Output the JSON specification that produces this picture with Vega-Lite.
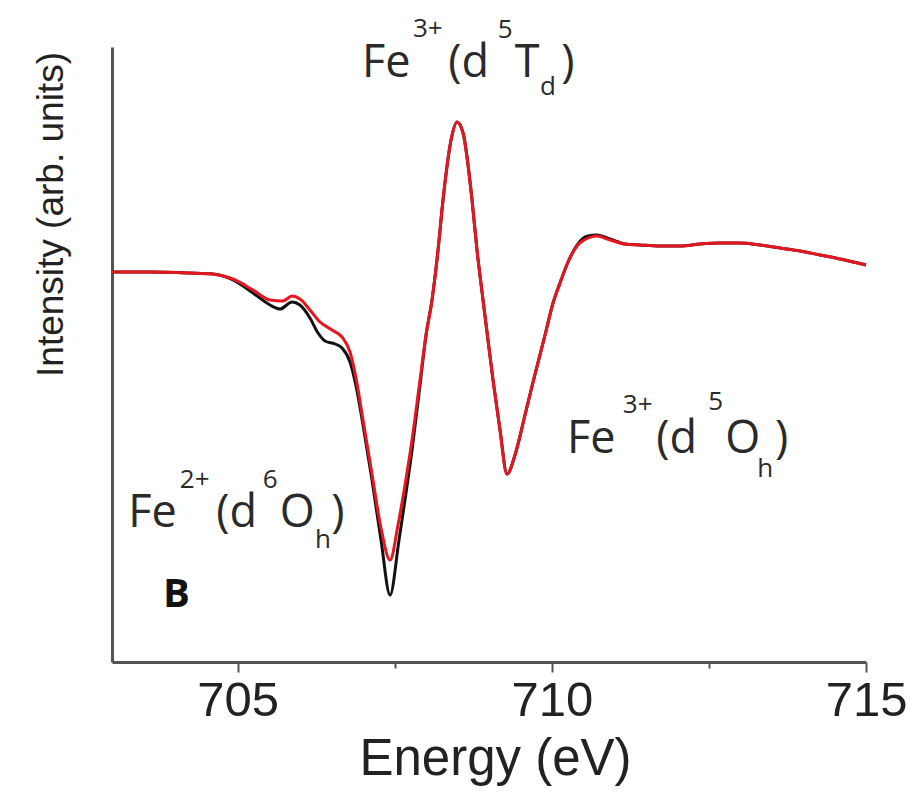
{
  "$schema": "https://vega.github.io/schema/vega-lite/v6.json",
  "width": 754,
  "height": 615,
  "autosize": {"type": "none"},
  "padding": {"left": 112, "top": 47, "right": 45, "bottom": 137},
  "background": "white",
  "config": {"view": {"stroke": null}},
  "datasets": {
    "black": [
      {"E": 703.000, "I": 0.00}, {"E": 703.605, "I": 0.00}, {"E": 704.241, "I": -0.01}, {"E": 704.608, "I": -0.02},
      {"E": 704.926, "I": -0.08}, {"E": 705.244, "I": -0.21}, {"E": 705.515, "I": -0.33}, {"E": 705.674, "I": -0.37},
      {"E": 705.865, "I": -0.30}, {"E": 705.992, "I": -0.33}, {"E": 706.151, "I": -0.46}, {"E": 706.279, "I": -0.61},
      {"E": 706.390, "I": -0.69}, {"E": 706.549, "I": -0.72}, {"E": 706.661, "I": -0.76}, {"E": 706.788, "I": -0.90},
      {"E": 706.884, "I": -1.14}, {"E": 706.995, "I": -1.53}, {"E": 707.138, "I": -2.08}, {"E": 707.281, "I": -2.68},
      {"E": 707.425, "I": -3.23}, {"E": 707.568, "I": -2.68}, {"E": 707.663, "I": -2.28}, {"E": 707.775, "I": -1.78},
      {"E": 707.902, "I": -1.13}, {"E": 707.998, "I": -0.63}, {"E": 708.093, "I": -0.28}, {"E": 708.189, "I": 0.22},
      {"E": 708.268, "I": 0.72}, {"E": 708.396, "I": 1.32}, {"E": 708.491, "I": 1.50}, {"E": 708.587, "I": 1.39},
      {"E": 708.730, "I": 0.72}, {"E": 708.809, "I": 0.22}, {"E": 708.905, "I": -0.28}, {"E": 709.064, "I": -1.08},
      {"E": 709.175, "I": -1.58}, {"E": 709.287, "I": -2.02}, {"E": 709.414, "I": -1.83}, {"E": 709.573, "I": -1.43},
      {"E": 709.701, "I": -1.10}, {"E": 709.892, "I": -0.63}, {"E": 710.019, "I": -0.31}, {"E": 710.130, "I": -0.11},
      {"E": 710.258, "I": 0.10}, {"E": 710.401, "I": 0.27}, {"E": 710.576, "I": 0.36}, {"E": 710.719, "I": 0.37},
      {"E": 710.926, "I": 0.33}, {"E": 711.165, "I": 0.28}, {"E": 711.404, "I": 0.27}, {"E": 711.722, "I": 0.26},
      {"E": 712.040, "I": 0.26}, {"E": 712.359, "I": 0.28}, {"E": 712.677, "I": 0.29}, {"E": 712.995, "I": 0.29},
      {"E": 713.314, "I": 0.27}, {"E": 713.632, "I": 0.24}, {"E": 713.950, "I": 0.21}, {"E": 714.268, "I": 0.17},
      {"E": 714.587, "I": 0.13}, {"E": 715.000, "I": 0.07}
    ],
    "red": [
      {"E": 703.000, "I": 0.00}, {"E": 703.605, "I": 0.00}, {"E": 704.241, "I": -0.01}, {"E": 704.608, "I": -0.02},
      {"E": 704.926, "I": -0.07}, {"E": 705.244, "I": -0.18}, {"E": 705.515, "I": -0.28}, {"E": 705.722, "I": -0.29},
      {"E": 705.865, "I": -0.24}, {"E": 705.992, "I": -0.27}, {"E": 706.151, "I": -0.38}, {"E": 706.311, "I": -0.50},
      {"E": 706.502, "I": -0.58}, {"E": 706.661, "I": -0.65}, {"E": 706.788, "I": -0.80}, {"E": 706.884, "I": -1.06},
      {"E": 706.995, "I": -1.48}, {"E": 707.138, "I": -2.02}, {"E": 707.281, "I": -2.56}, {"E": 707.425, "I": -2.88},
      {"E": 707.552, "I": -2.53}, {"E": 707.663, "I": -2.13}, {"E": 707.775, "I": -1.68}, {"E": 707.902, "I": -1.08},
      {"E": 707.998, "I": -0.63}, {"E": 708.093, "I": -0.28}, {"E": 708.189, "I": 0.22}, {"E": 708.268, "I": 0.72},
      {"E": 708.396, "I": 1.32}, {"E": 708.491, "I": 1.50}, {"E": 708.587, "I": 1.39}, {"E": 708.730, "I": 0.72},
      {"E": 708.809, "I": 0.22}, {"E": 708.905, "I": -0.28}, {"E": 709.064, "I": -1.08}, {"E": 709.175, "I": -1.58},
      {"E": 709.287, "I": -2.02}, {"E": 709.414, "I": -1.83}, {"E": 709.573, "I": -1.43}, {"E": 709.701, "I": -1.10},
      {"E": 709.892, "I": -0.63}, {"E": 710.019, "I": -0.31}, {"E": 710.130, "I": -0.11}, {"E": 710.258, "I": 0.10},
      {"E": 710.401, "I": 0.26}, {"E": 710.576, "I": 0.34}, {"E": 710.719, "I": 0.36}, {"E": 710.926, "I": 0.32},
      {"E": 711.165, "I": 0.28}, {"E": 711.404, "I": 0.27}, {"E": 711.722, "I": 0.26}, {"E": 712.040, "I": 0.26},
      {"E": 712.359, "I": 0.28}, {"E": 712.677, "I": 0.29}, {"E": 712.995, "I": 0.29}, {"E": 713.314, "I": 0.27},
      {"E": 713.632, "I": 0.24}, {"E": 713.950, "I": 0.21}, {"E": 714.268, "I": 0.17}, {"E": 714.587, "I": 0.13},
      {"E": 715.000, "I": 0.07}
    ],
    "labels": [
      {"E": 706.98, "I": 1.95, "t": "Fe", "kind": "main"},
      {"E": 707.79, "I": 2.35, "t": "3+", "kind": "small"},
      {"E": 708.35, "I": 1.95, "t": "(d", "kind": "main"},
      {"E": 709.14, "I": 2.34, "t": "5", "kind": "small"},
      {"E": 709.41, "I": 1.95, "t": "T", "kind": "main"},
      {"E": 709.81, "I": 1.77, "t": "d", "kind": "small"},
      {"E": 710.15, "I": 1.95, "t": ")", "kind": "main"},
      {"E": 710.24, "I": -1.81, "t": "Fe", "kind": "main"},
      {"E": 711.13, "I": -1.41, "t": "3+", "kind": "small"},
      {"E": 711.66, "I": -1.81, "t": "(d", "kind": "main"},
      {"E": 712.49, "I": -1.38, "t": "5", "kind": "small"},
      {"E": 712.76, "I": -1.81, "t": "O", "kind": "main"},
      {"E": 713.27, "I": -2.05, "t": "h", "kind": "small"},
      {"E": 713.55, "I": -1.81, "t": ")", "kind": "main"},
      {"E": 703.26, "I": -2.55, "t": "Fe", "kind": "main"},
      {"E": 704.08, "I": -2.16, "t": "2+", "kind": "small"},
      {"E": 704.66, "I": -2.55, "t": "(d", "kind": "main"},
      {"E": 705.40, "I": -2.16, "t": "6", "kind": "small"},
      {"E": 705.67, "I": -2.55, "t": "O", "kind": "main"},
      {"E": 706.23, "I": -2.76, "t": "h", "kind": "small"},
      {"E": 706.49, "I": -2.55, "t": ")", "kind": "main"},
      {"E": 703.81, "I": -3.35, "t": "B", "kind": "panel"}
    ]
  },
  "encoding": {
    "x": {
      "field": "E", "type": "quantitative",
      "scale": {"domain": [703, 715], "nice": false, "zero": false},
      "axis": {
        "title": "Energy (eV)",
        "values": [705, 707.5, 710, 712.5, 715],
        "labelExpr": "datum.value % 5 === 0 ? datum.label : ''",
        "format": "d",
        "grid": false,
        "domainColor": "#555555", "domainWidth": 3,
        "tickColor": "#555555", "tickWidth": 2,
        "tickSize": {"condition": {"test": "datum.value % 5 === 0", "value": 10}, "value": 6},
        "labelFont": "Liberation Sans, Arial, sans-serif",
        "labelFontSize": 49, "labelColor": "#222222", "labelPadding": 4,
        "labelFlush": false, "labelOverlap": false,
        "titleFont": "Liberation Sans, Arial, sans-serif",
        "titleFontSize": 51, "titleFontWeight": "normal", "titleColor": "#222222",
        "titleBaseline": "alphabetic", "titleY": 112, "titleX": 383
      }
    },
    "y": {
      "field": "I", "type": "quantitative",
      "scale": {"domain": [-3.9, 2.25], "nice": false, "zero": false},
      "axis": {
        "title": "Intensity (arb. units)",
        "labels": false, "ticks": false, "grid": false,
        "domainColor": "#555555", "domainWidth": 3,
        "titleFont": "Liberation Sans, Arial, sans-serif",
        "titleFontSize": 37, "titleFontWeight": "normal", "titleColor": "#222222",
        "titleBaseline": "alphabetic", "titleX": -50, "titleY": 167
      }
    }
  },
  "layer": [
    {
      "data": {"name": "black"},
      "mark": {"type": "line", "color": "#111111", "strokeWidth": 3, "interpolate": "monotone"}
    },
    {
      "data": {"name": "red"},
      "mark": {"type": "line", "color": "#e5161f", "strokeWidth": 3, "interpolate": "monotone"}
    },
    {
      "data": {"name": "labels"},
      "transform": [{"filter": "datum.kind === 'main'"}],
      "mark": {"type": "text", "align": "left", "baseline": "alphabetic", "font": "Open Sans", "fontSize": 45, "color": "#2a2a2a"},
      "encoding": {"text": {"field": "t"}}
    },
    {
      "data": {"name": "labels"},
      "transform": [{"filter": "datum.kind === 'small'"}],
      "mark": {"type": "text", "align": "left", "baseline": "alphabetic", "font": "Open Sans", "fontSize": 26, "color": "#2a2a2a"},
      "encoding": {"text": {"field": "t"}}
    },
    {
      "data": {"name": "labels"},
      "transform": [{"filter": "datum.kind === 'panel'"}],
      "mark": {"type": "text", "align": "left", "baseline": "alphabetic", "font": "Open Sans", "fontSize": 40, "fontWeight": "bold", "color": "#111111"},
      "encoding": {"text": {"field": "t"}}
    }
  ]
}
